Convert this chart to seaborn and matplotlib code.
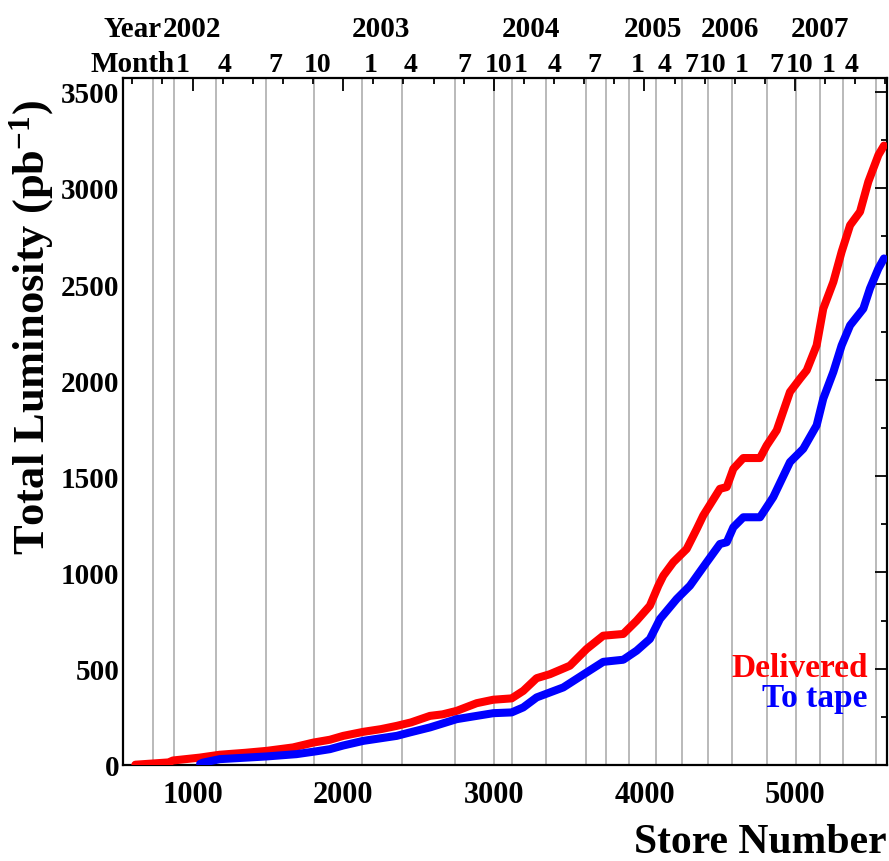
import numpy as np
import pandas as pd
import matplotlib
matplotlib.use("Agg")
import matplotlib.pyplot as plt
import seaborn as sns
from matplotlib import transforms as mtransforms
from matplotlib.ticker import MultipleLocator

# ---------------- data ----------------
delivered_store = [620, 840, 870, 1048, 1181, 1350, 1491, 1667, 1801, 1912, 2000, 2133,
                   2250, 2355, 2450, 2576, 2660, 2753, 2886, 2996, 3118, 3195, 3284,
                   3373, 3505, 3616, 3726, 3859, 3948, 4036, 4092, 4125, 4191, 4280,
                   4347, 4390, 4501, 4546, 4590, 4656, 4767, 4811, 4878, 4966, 5033,
                   5077, 5143, 5187, 5254, 5309, 5365, 5431, 5486, 5553, 5590]
delivered_lumi = [0, 12, 22, 37, 52, 62, 72, 90, 115, 130, 150, 171,
                  185, 202, 220, 254, 262, 280, 320, 338, 345, 384, 450,
                  471, 515, 602, 671, 680, 749, 827, 931, 983, 1053, 1122,
                  1226, 1296, 1435, 1444, 1539, 1595, 1595, 1660, 1739, 1939, 2008,
                  2051, 2181, 2372, 2511, 2668, 2806, 2876, 3032, 3171, 3220]

tape_store = [1050, 1070, 1181, 1491, 1690, 1823, 1912, 2000, 2133, 2355, 2443, 2576,
              2753, 2996, 3118, 3195, 3284, 3461, 3616, 3726, 3859, 3948, 4036,
              4103, 4214, 4302, 4413, 4501, 4546, 4590, 4656, 4767, 4855, 4966,
              5054, 5143, 5187, 5254, 5309, 5365, 5453, 5497, 5553, 5590]
tape_lumi = [5, 11, 29, 43, 55, 70, 81, 100, 124, 150, 168, 194,
             237, 268, 272, 298, 350, 402, 480, 535, 546, 593, 654,
             758, 862, 931, 1053, 1148, 1157, 1235, 1287, 1287, 1392, 1574,
             1643, 1765, 1904, 2043, 2181, 2285, 2372, 2477, 2581, 2633]

month_store = [734, 878, 1155, 1487, 1806, 2126, 2388, 2742, 3003, 3120, 3344, 3610,
               3743, 3897, 4076, 4251, 4424, 4583, 4816, 5004, 5166, 5316, 5537]
month_labels = ["", "1", "4", "7", "10", "1", "4", "7", "10", "1", "4", "7",
                "", "1", "4", "7", "10", "1", "7", "10", "1", "4", ""]

year_labels = ["2002", "2003", "2004", "2005", "2006", "2007"]
year_store = [995, 2250, 3246, 4056, 4568, 5166]

series_names = ["Delivered", "To tape"]
series_colors = ["#ff0000", "#0000ff"]

# ---------------- style ----------------
sns.set_theme(style="white")
plt.rcParams["font.family"] = ["Liberation Serif", "DejaVu Serif"]
plt.rcParams["font.weight"] = "bold"
plt.rcParams["text.color"] = "black"
plt.rcParams["axes.labelcolor"] = "black"
plt.rcParams["xtick.color"] = "black"
plt.rcParams["ytick.color"] = "black"
plt.rcParams["mathtext.fontset"] = "custom"
plt.rcParams["mathtext.rm"] = "Liberation Serif:bold"
plt.rcParams["mathtext.it"] = "Liberation Serif:bold"
plt.rcParams["mathtext.bf"] = "Liberation Serif:bold"
plt.rcParams["axes.unicode_minus"] = False

df = pd.concat([
    pd.DataFrame({"store": delivered_store, "lumi": delivered_lumi, "series": series_names[0]}),
    pd.DataFrame({"store": tape_store, "lumi": tape_lumi, "series": series_names[1]}),
], ignore_index=True)

fig = plt.figure(figsize=(8.89, 8.62), dpi=100)
ax = fig.add_axes([0.1387, 0.1117, 0.8587, 0.7963])

x_min, x_max = 540, 5608
y_min, y_max = 0, 3570

# vertical month grid lines
for ms in month_store:
    ax.axvline(ms, color="#b4b4b4", lw=1.3, zorder=0)

sns.lineplot(data=df, x="store", y="lumi", hue="series", hue_order=series_names,
             palette=dict(zip(series_names, series_colors)), estimator=None,
             linewidth=5.8, legend=False, ax=ax, zorder=3)
ax.plot([x_min, tape_store[0]], [0, 0], color="#3030ff", lw=1.2, zorder=2)

ax.set_xlim(x_min, x_max)
ax.set_ylim(y_min, y_max)

ax.xaxis.set_major_locator(MultipleLocator(1000))
ax.xaxis.set_minor_locator(MultipleLocator(200))
ax.yaxis.set_major_locator(MultipleLocator(500))
ax.yaxis.set_minor_locator(MultipleLocator(250))
ax.tick_params(which="both", direction="in", top=True, right=True, width=1.3,
               color="black")
ax.tick_params(which="major", length=9)
ax.tick_params(which="minor", length=4.5)
ax.tick_params(axis="x", which="major", labelsize=22, pad=11, labelcolor="black")
ax.tick_params(axis="y", which="major", labelsize=21, pad=3, labelcolor="black")
for lab in ax.get_xticklabels() + ax.get_yticklabels():
    lab.set_fontweight("bold")

for sp in ax.spines.values():
    sp.set_linewidth(1.6)
    sp.set_color("black")

ax.set_xlabel("Store Number", fontsize=30, fontweight="bold", loc="right",
              labelpad=10, color="black")
ax.set_ylabel("Total Luminosity (pb$^{-1}$)", fontsize=32, fontweight="bold",
              color="black")
ax.yaxis.set_label_coords(-0.088, 0.638)

# legend as coloured text
ax.text(0.9755, 0.129, series_names[0], color=series_colors[0], fontsize=24,
        fontweight="bold", ha="right", va="baseline", transform=ax.transAxes)
ax.text(0.9755, 0.0855, series_names[1], color=series_colors[1], fontsize=24,
        fontweight="bold", ha="right", va="baseline", transform=ax.transAxes)

# top year / month labels
blend = mtransforms.blended_transform_factory(ax.transData, fig.transFigure)
for ms, lab in zip(month_store, month_labels):
    if not lab:
        continue
    if len(lab) == 1:
        tr = mtransforms.offset_copy(blend, fig=fig, x=2, y=0, units="dots")
        ha = "left"
    else:
        tr = mtransforms.offset_copy(blend, fig=fig, x=4, y=0, units="dots")
        ha = "center"
    ax.text(ms, 0.9165, lab, fontsize=20, fontweight="bold", ha=ha,
            va="baseline", transform=tr, clip_on=False, color="black")
for ys, lab in zip(year_store, year_labels):
    ax.text(ys, 0.957, lab, fontsize=21, fontweight="bold", ha="center",
            va="baseline", transform=blend, clip_on=False, color="black")
fig.text(162 / 889, 0.957, "Year", fontsize=21, fontweight="bold", ha="right",
         va="baseline", color="black")
fig.text(175 / 889, 0.9165, "Month", fontsize=21, fontweight="bold", ha="right",
         va="baseline", color="black")

fig.savefig("out.png", dpi=100)
